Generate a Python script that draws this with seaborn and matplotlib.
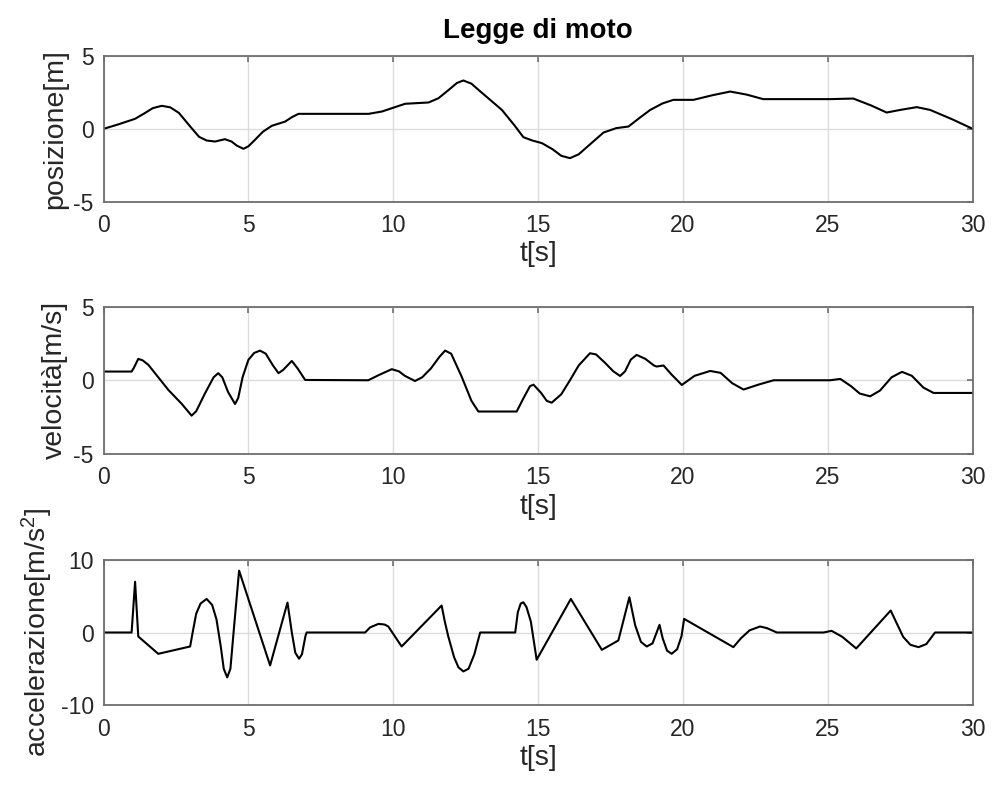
import matplotlib
matplotlib.use("Agg")
import matplotlib.pyplot as plt
import seaborn as sns
import pandas as pd

# ---- data ----
pos_t = [0, 0.5, 1.09, 1.4, 1.7, 2.01, 2.3, 2.6, 3.04, 3.3, 3.56, 3.85, 4.19, 4.42, 4.6, 4.83,
         5.0, 5.23, 5.5, 5.81, 6.27, 6.5, 6.73, 9.15, 9.61, 10.0, 10.41, 11.22, 11.56, 11.9,
         12.2, 12.42, 12.7, 12.94, 13.75, 14.2, 14.49, 14.8, 15.13, 15.5, 15.8, 16.10, 16.4,
         16.8, 17.26, 17.7, 18.12, 18.5, 18.87, 19.3, 19.67, 20.36, 21.0, 21.63, 22.2, 22.77,
         25.08, 25.88, 26.5, 27.03, 27.5, 28.07, 28.53, 29.3, 30]
pos_y = [0, 0.3, 0.69, 1.05, 1.42, 1.58, 1.48, 1.1, 0.05, -0.55, -0.80, -0.87, -0.71, -0.87, -1.15,
         -1.37, -1.2, -0.75, -0.2, 0.21, 0.50, 0.8, 1.03, 1.03, 1.19, 1.45, 1.72, 1.81, 2.10, 2.65,
         3.15, 3.32, 3.1, 2.68, 1.30, 0.2, -0.57, -0.8, -0.98, -1.4, -1.85, -2.01, -1.75,
         -1.05, -0.25, 0.05, 0.16, 0.75, 1.30, 1.75, 1.99, 1.99, 2.3, 2.56, 2.35, 2.04,
         2.04, 2.08, 1.6, 1.12, 1.3, 1.49, 1.30, 0.65, 0]

vel_t = [0, 0.97, 1.05, 1.20, 1.35, 1.55, 2.24, 2.7, 3.04, 3.2, 3.5, 3.8, 3.96, 4.1, 4.3, 4.54,
         4.65, 4.8, 5.0, 5.2, 5.40, 5.6, 5.85, 6.04, 6.2, 6.50, 6.7, 6.96, 9.14, 9.5, 9.95,
         10.2, 10.4, 10.75, 11.0, 11.3, 11.6, 11.79, 12.0, 12.36, 12.7, 12.94, 14.26, 14.5,
         14.72, 14.84, 15.1, 15.3, 15.47, 15.8, 16.10, 16.4, 16.79, 17.0, 17.3, 17.6, 17.83,
         18.0, 18.2, 18.40, 18.7, 19.0, 19.09, 19.33, 19.6, 19.96, 20.4, 20.94, 21.3, 21.7,
         22.09, 22.6, 23.13, 25.08, 25.43, 25.8, 26.1, 26.46, 26.8, 27.2, 27.56, 27.9, 28.3,
         28.65, 30]
vel_v = [0.59, 0.59, 0.85, 1.45, 1.35, 1.04, -0.66, -1.6, -2.40, -2.1, -0.9, 0.2, 0.48, 0.2, -0.8,
         -1.61, -1.2, 0.2, 1.38, 1.85, 2.01, 1.8, 1.0, 0.48, 0.7, 1.31, 0.8, 0.02, 0, 0.35, 0.75,
         0.6, 0.3, -0.05, 0.2, 0.8, 1.6, 2.01, 1.8, 0.25, -1.4, -2.12, -2.12, -1.2,
         -0.4, -0.3, -0.85, -1.4, -1.52, -0.95, 0, 1.0, 1.83, 1.75, 1.2, 0.6, 0.29,
         0.6, 1.4, 1.72, 1.45, 1.0, 0.93, 1.0, 0.4, -0.32, 0.3, 0.63, 0.5, -0.2,
         -0.63, -0.3, 0, 0, 0.09, -0.4, -0.9, -1.09, -0.7, 0.2, 0.57, 0.3, -0.5,
         -0.86, -0.86]

acc_t = [0, 0.97, 1.09, 1.20, 1.89, 2.99, 3.1, 3.2, 3.35, 3.56, 3.75, 3.9, 4.05, 4.15, 4.27,
         4.38, 4.5, 4.68, 5.75, 6.35, 6.5, 6.62, 6.75, 6.85, 6.97, 7.01, 9.03, 9.2, 9.49, 9.7,
         9.83, 10.29, 11.67, 11.78, 11.90, 12.1, 12.25, 12.42, 12.6, 12.8, 13.0, 14.21, 14.3,
         14.4, 14.49, 14.6, 14.75, 14.95, 16.13, 17.2, 17.77, 18.15, 18.35, 18.55, 18.75, 18.95,
         19.19, 19.3, 19.45, 19.61, 19.8, 19.95, 20.04, 21.74, 22.0, 22.3, 22.66, 22.9, 23.24,
         24.85, 25.13, 25.5, 25.98, 27.17, 27.35, 27.6, 27.85, 28.13, 28.4, 28.70, 30]
acc_a = [0, 0, 7.0, -0.55, -2.94, -1.93, 0.5, 2.6, 4.0, 4.63, 3.8, 1.8, -2.0, -5.0, -6.19,
         -5.0, 0.5, 8.53, -4.54, 4.13, 0.0, -2.8, -3.62, -3.0, -0.5, 0, 0, 0.7, 1.19, 1.1,
         0.83, -1.93, 3.72, 1.5, -0.55, -3.4, -4.8, -5.37, -5.0, -3.0, 0, 0, 2.8,
         4.0, 4.17, 3.5, 1.5, -3.76, 4.63, -2.39, -1.1, 4.86, 1.0, -1.3, -1.93, -1.5,
         1.06, -0.8, -2.5, -2.94, -2.3, -0.5, 1.88, -2.02, -0.8, 0.3, 0.83, 0.6, 0,
         0, 0.23, -0.6, -2.2, 3.03, 1.5, -0.6, -1.7, -2.02, -1.6, 0, 0]

x_ticks = [0, 5, 10, 15, 20, 25, 30]
title = "Legge di moto"
xlabel = "t[s]"
ylabels = ["posizione[m]", "velocità[m/s]", "accelerazione[m/s$^{2}$]"]

sns.set_style("white")
plt.rcParams["font.family"] = ["Liberation Sans", "DejaVu Sans"]
plt.rcParams["mathtext.fontset"] = "custom"
plt.rcParams["mathtext.rm"] = "Liberation Sans"
plt.rcParams["mathtext.it"] = "Liberation Sans"
plt.rcParams["mathtext.default"] = "regular"
plt.rcParams["axes.unicode_minus"] = False

fig = plt.figure(figsize=(9.92, 7.87), dpi=100)
W, H = 992, 787
left, right = 103.5, 972.7
boxes = [(56, 201.7), (306.5, 454), (560, 705)]

series = [
    (pd.DataFrame({"t": pos_t, "v": pos_y}), (-5, 5), [-5, 0, 5]),
    (pd.DataFrame({"t": vel_t, "v": vel_v}), (-5, 5), [-5, 0, 5]),
    (pd.DataFrame({"t": acc_t, "v": acc_a}), (-10, 10), [-10, 0, 10]),
]

spine_col = "#6e6e6e"
text_col = "#262626"
for i, ((df, ylim, yt), (top, bot)) in enumerate(zip(series, boxes)):
    ax = fig.add_axes([left / W, 1 - bot / H, (right - left) / W, (bot - top) / H])
    sns.lineplot(data=df, x="t", y="v", ax=ax, color="black", linewidth=1.5,
                 estimator=None, sort=False)
    ax.set_xlim(0, 30)
    ax.set_ylim(*ylim)
    ax.set_xticks(x_ticks)
    ax.set_yticks(yt)
    ax.grid(True, color="#dcdcdc", linewidth=1.0)
    ax.set_axisbelow(True)
    for s in ax.spines.values():
        s.set_color(spine_col)
        s.set_linewidth(1.3)
    ax.tick_params(direction="in", length=4.5, width=1.2, color=spine_col,
                   top=True, right=True, labelsize=16.5, labelcolor=text_col)
    ax.tick_params(axis="x", pad=9)
    ax.tick_params(axis="y", pad=7)
    ax.set_xlabel(xlabel, fontsize=20.5, color=text_col, labelpad=3)
    ax.set_ylabel(ylabels[i], fontsize=20.5, color=text_col, labelpad=4)
    if i == 0:
        ax.set_title(title, fontsize=20, fontweight="bold", color="black", pad=13)

fig.savefig("out.png", dpi=100)
